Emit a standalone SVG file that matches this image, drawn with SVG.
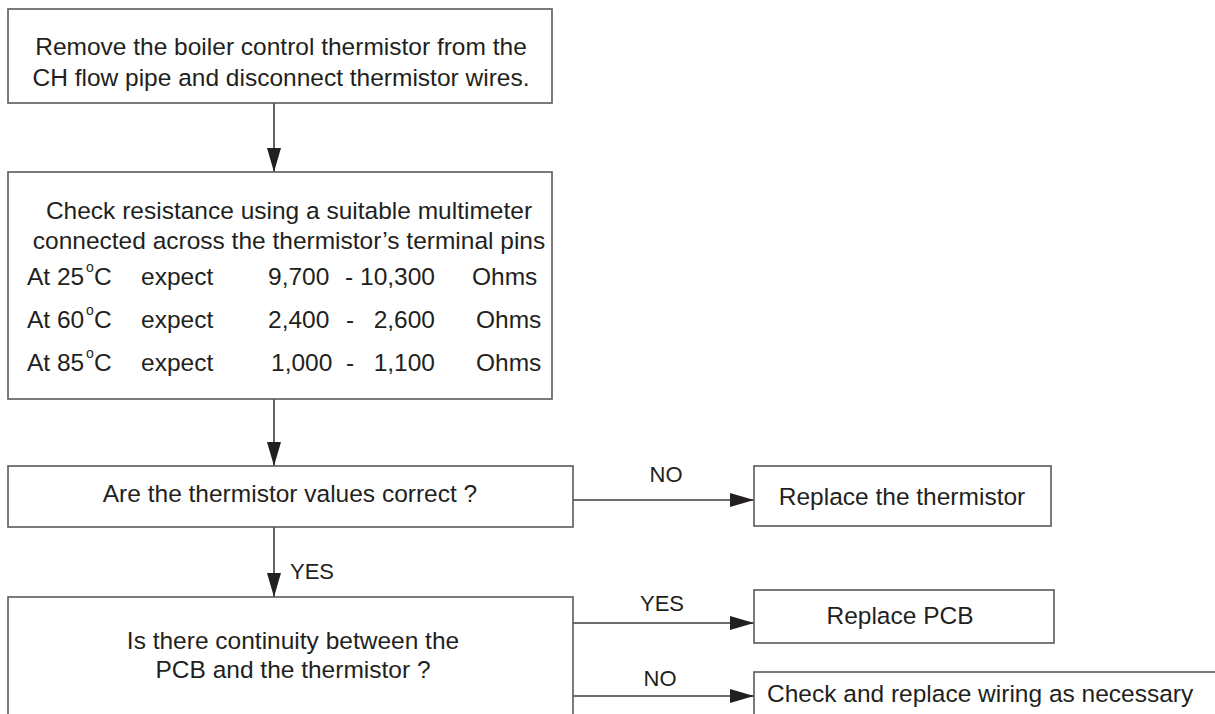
<svg xmlns="http://www.w3.org/2000/svg" width="1215" height="714" viewBox="0 0 1215 714">
<style>
.box{fill:#ffffff;stroke:#5a5a5c;stroke-width:1.6}
.t{font-family:"Liberation Sans",Arial,sans-serif;font-size:24.5px;fill:#231f20}
.c{text-anchor:middle}
.e{text-anchor:end}
.lbl{font-family:"Liberation Sans",Arial,sans-serif;font-size:22px;fill:#231f20}
.sup{font-family:"Liberation Sans",Arial,sans-serif;font-size:14px;fill:#231f20}
.ln{stroke:#3c3c3e;stroke-width:1.6;fill:none}
</style>
<defs>
<marker id="ah" viewBox="0 0 24 14" refX="24" refY="7" markerWidth="24" markerHeight="14" markerUnits="userSpaceOnUse" orient="auto">
<path d="M0,0 L24,7 L0,14 Z" fill="#231f20"/>
</marker>
</defs>
<rect width="1215" height="714" fill="#ffffff"/>
<g id="connectors">
<line class="ln" x1="274" y1="103" x2="274" y2="172" marker-end="url(#ah)"/>
<line class="ln" x1="274" y1="399" x2="274" y2="466" marker-end="url(#ah)"/>
<line class="ln" x1="274" y1="527" x2="274" y2="597" marker-end="url(#ah)"/>
<line class="ln" x1="573" y1="500" x2="754" y2="500" marker-end="url(#ah)"/>
<line class="ln" x1="573" y1="623" x2="754" y2="623" marker-end="url(#ah)"/>
<line class="ln" x1="573" y1="696" x2="754" y2="696" marker-end="url(#ah)"/>
<text class="lbl" x="290" y="579">YES</text>
<text class="lbl c" x="666" y="482">NO</text>
<text class="lbl c" x="662" y="611">YES</text>
<text class="lbl c" x="660" y="686">NO</text>
</g>
<g id="n1">
<rect class="box" x="8" y="9" width="544" height="94"/>
<text class="t c" x="281" y="55">Remove the boiler control thermistor from the</text>
<text class="t c" x="281" y="86">CH flow pipe and disconnect thermistor wires.</text>
</g>
<g id="n2">
<rect class="box" x="8" y="172" width="544" height="227"/>
<text class="t c" x="289" y="219">Check resistance using a suitable multimeter</text>
<text class="t c" x="289" y="249">connected across the thermistor’s terminal pins</text>
<text class="t" x="27" y="285">At 25</text><text class="sup" x="86" y="272">o</text><text class="t" x="94" y="285">C</text>
<text class="t" x="141" y="285">expect</text>
<text class="t" x="268" y="285">9,700</text><text class="t" x="345" y="285">-</text><text class="t e" x="435" y="285">10,300</text>
<text class="t" x="472" y="285">Ohms</text>
<text class="t" x="27" y="328">At 60</text><text class="sup" x="86" y="315">o</text><text class="t" x="94" y="328">C</text>
<text class="t" x="141" y="328">expect</text>
<text class="t" x="268" y="328">2,400</text><text class="t" x="346" y="328">-</text><text class="t e" x="435" y="328">2,600</text>
<text class="t" x="476" y="328">Ohms</text>
<text class="t" x="27" y="371">At 85</text><text class="sup" x="86" y="358">o</text><text class="t" x="94" y="371">C</text>
<text class="t" x="141" y="371">expect</text>
<text class="t" x="271" y="371">1,000</text><text class="t" x="346" y="371">-</text><text class="t e" x="435" y="371">1,100</text>
<text class="t" x="476" y="371">Ohms</text>
</g>
<g id="n3">
<rect class="box" x="8" y="466" width="565" height="61"/>
<text class="t c" x="290" y="502">Are the thermistor values correct ?</text>
</g>
<g id="n4">
<rect class="box" x="8" y="597" width="565" height="140"/>
<text class="t c" x="293" y="649">Is there continuity between the</text>
<text class="t c" x="293" y="678">PCB and the thermistor ?</text>
</g>
<g id="n5">
<rect class="box" x="754" y="466" width="297" height="60"/>
<text class="t c" x="902" y="505">Replace the thermistor</text>
</g>
<g id="n6">
<rect class="box" x="754" y="590" width="300" height="53"/>
<text class="t c" x="900" y="624">Replace PCB</text>
</g>
<g id="n7">
<rect class="box" x="754" y="672" width="500" height="60"/>
<text class="t" x="767" y="702">Check and replace wiring as necessary</text>
</g>
</svg>
